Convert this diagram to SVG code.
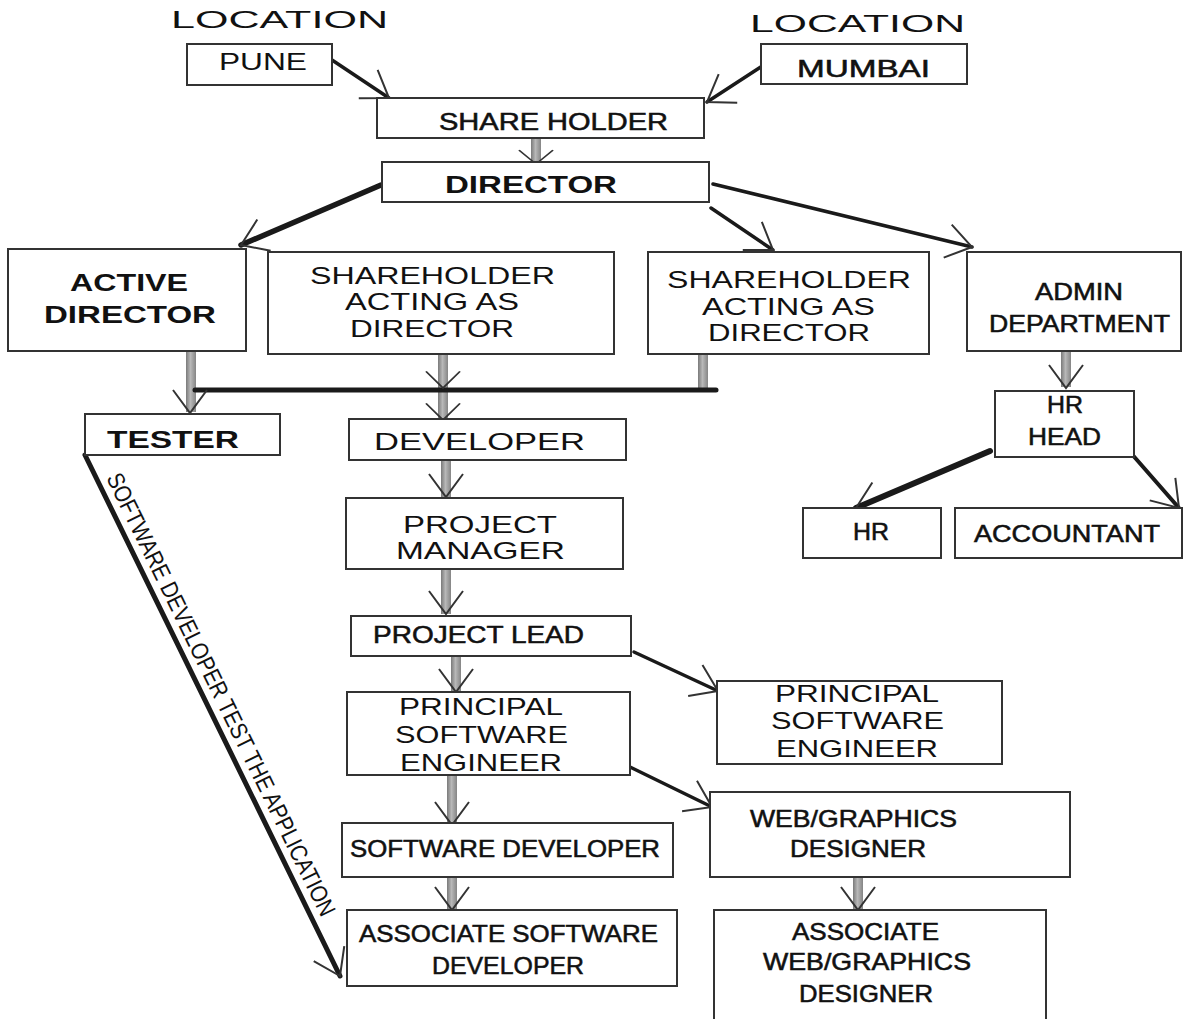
<svg xmlns="http://www.w3.org/2000/svg" xmlns:xlink="http://www.w3.org/1999/xlink" width="1183" height="1019" viewBox="0 0 1183 1019">
<defs>
<style>
.box{fill:#fff;stroke:#333;stroke-width:2}
.t{font-family:"Liberation Sans",Arial,sans-serif;fill:#111;font-size:24px}
.b{font-weight:bold}
.m{stroke:#111;stroke-width:0.55}
.blk{stroke:#1a1a1a;fill:none;stroke-linecap:round}
.chev{fill:none;stroke:#333;stroke-width:2;stroke-linejoin:miter}
.gbar{fill:url(#gg)}
</style>
<linearGradient id="gg" x1="0" y1="0" x2="1" y2="0">
<stop offset="0" stop-color="#7a7a7a"/>
<stop offset="0.45" stop-color="#b8b8b8"/>
<stop offset="1" stop-color="#858585"/>
</linearGradient>
<marker id="ah" viewBox="-32 -22 36 44" refX="0" refY="0" markerWidth="36" markerHeight="44" markerUnits="userSpaceOnUse" orient="auto">
<path d="M-25,-17 L0,0 L-25,17" fill="none" stroke="#333" stroke-width="2"/>
</marker>
<path id="cv" d="M-17,-23 L0,0 L17,-23"/>
</defs>
<rect width="1183" height="1019" fill="#fff"/>

<g id="connectors">
<line class="blk" x1="332" y1="60" x2="389" y2="98" stroke-width="3.5" marker-end="url(#ah)"/>
<line class="blk" x1="767" y1="63" x2="707" y2="102" stroke-width="3.5" marker-end="url(#ah)"/>
<line class="blk" x1="381" y1="185" x2="241" y2="245" stroke-width="5.5" marker-end="url(#ah)"/>
<line class="blk" x1="711" y1="208" x2="773" y2="250" stroke-width="3.5" marker-end="url(#ah)"/>
<line class="blk" x1="713" y1="184" x2="972" y2="247" stroke-width="3.5" marker-end="url(#ah)"/>
<line class="blk" x1="990" y1="451" x2="856" y2="508" stroke-width="6" marker-end="url(#ah)"/>
<line class="blk" x1="1130" y1="452" x2="1179" y2="508" stroke-width="4" marker-end="url(#ah)"/>
<line class="blk" x1="634" y1="652" x2="718" y2="691" stroke-width="3.5" marker-end="url(#ah)"/>
<line class="blk" x1="630" y1="767" x2="712" y2="807" stroke-width="3.5" marker-end="url(#ah)"/>
<line class="blk" x1="85" y1="455" x2="340" y2="976" stroke-width="5" marker-end="url(#ah)"/>
<text class="t" font-size="18" transform="translate(106,478) rotate(63.9)" textLength="490" lengthAdjust="spacingAndGlyphs">SOFTWARE DEVELOPER TEST THE APPLICATION</text>
<rect class="gbar" x="531" y="138" width="10" height="25"/>
<use href="#cv" class="chev" transform="translate(536,164) scale(1,0.6)"/>
<rect class="gbar" x="186" y="350" width="10" height="62"/>
<rect class="gbar" x="438" y="354" width="10" height="65"/>
<rect class="gbar" x="698" y="354" width="10" height="37"/>
<line class="blk" x1="195" y1="390" x2="716" y2="390" stroke-width="5" stroke-linecap="butt"/>
<use href="#cv" class="chev" transform="translate(190,413)"/>
<use href="#cv" class="chev" transform="translate(443,388) scale(1,0.72)"/>
<use href="#cv" class="chev" transform="translate(443,420) scale(1,0.72)"/>
<rect class="gbar" x="441" y="460" width="10" height="37"/>
<use href="#cv" class="chev" transform="translate(446,497)"/>
<rect class="gbar" x="441" y="570" width="10" height="44"/>
<use href="#cv" class="chev" transform="translate(446,614)"/>
<rect class="gbar" x="451" y="657" width="10" height="35"/>
<use href="#cv" class="chev" transform="translate(456,692)"/>
<rect class="gbar" x="447" y="776" width="10" height="48"/>
<use href="#cv" class="chev" transform="translate(452,825)"/>
<rect class="gbar" x="447" y="878" width="10" height="31"/>
<use href="#cv" class="chev" transform="translate(452,910)"/>
<rect class="gbar" x="853" y="878" width="10" height="31"/>
<use href="#cv" class="chev" transform="translate(858,910)"/>
<rect class="gbar" x="1061" y="352" width="10" height="35"/>
<use href="#cv" class="chev" transform="translate(1066,388)"/>
</g>

<g id="loc-left"><text class="t" x="171" y="28" font-size="25" textLength="217" lengthAdjust="spacingAndGlyphs">LOCATION</text></g>
<g id="loc-right"><text class="t" x="750" y="32" font-size="25" textLength="215" lengthAdjust="spacingAndGlyphs">LOCATION</text></g>

<g id="pune"><rect class="box" x="187" y="44" width="145" height="41"/>
<text class="t" x="219" y="70" font-size="23" textLength="88" lengthAdjust="spacingAndGlyphs">PUNE</text></g>

<g id="mumbai"><rect class="box" x="761" y="44" width="206" height="40"/>
<text class="t m" x="797" y="77" font-size="27" textLength="133" lengthAdjust="spacingAndGlyphs">MUMBAI</text></g>

<g id="shareholder"><rect class="box" x="377" y="98" width="327" height="40"/>
<text class="t m" x="439" y="130" font-size="25" textLength="229" lengthAdjust="spacingAndGlyphs">SHARE HOLDER</text></g>

<g id="director"><rect class="box" x="382" y="162" width="327" height="40"/>
<text class="t b" x="445" y="193" font-size="26" textLength="172" lengthAdjust="spacingAndGlyphs">DIRECTOR</text></g>

<g id="active-director"><rect class="box" x="8" y="249" width="238" height="102"/>
<text class="t b" x="70" y="291" font-size="26" textLength="118" lengthAdjust="spacingAndGlyphs">ACTIVE</text>
<text class="t b" x="44" y="323" font-size="26" textLength="172" lengthAdjust="spacingAndGlyphs">DIRECTOR</text></g>

<g id="sh-acting-1"><rect class="box" x="268" y="252" width="346" height="102"/>
<text class="t" x="310" y="284" font-size="22" textLength="245" lengthAdjust="spacingAndGlyphs">SHAREHOLDER</text>
<text class="t" x="345" y="310" font-size="22" textLength="174" lengthAdjust="spacingAndGlyphs">ACTING AS</text>
<text class="t" x="350" y="337" font-size="22" textLength="164" lengthAdjust="spacingAndGlyphs">DIRECTOR</text></g>

<g id="sh-acting-2"><rect class="box" x="648" y="252" width="281" height="102"/>
<text class="t" x="667" y="288" font-size="22" textLength="244" lengthAdjust="spacingAndGlyphs">SHAREHOLDER</text>
<text class="t" x="702" y="315" font-size="22" textLength="173" lengthAdjust="spacingAndGlyphs">ACTING AS</text>
<text class="t" x="708" y="341" font-size="22" textLength="162" lengthAdjust="spacingAndGlyphs">DIRECTOR</text></g>

<g id="admin"><rect class="box" x="967" y="252" width="214" height="99"/>
<text class="t m" x="1035" y="300" font-size="25" textLength="88" lengthAdjust="spacingAndGlyphs">ADMIN</text>
<text class="t m" x="989" y="332" font-size="25" textLength="181" lengthAdjust="spacingAndGlyphs">DEPARTMENT</text></g>

<g id="hr-head"><rect class="box" x="995" y="391" width="139" height="66"/>
<text class="t m" x="1047" y="413" font-size="23" textLength="36" lengthAdjust="spacingAndGlyphs">HR</text>
<text class="t m" x="1028" y="445" font-size="25" textLength="73" lengthAdjust="spacingAndGlyphs">HEAD</text></g>

<g id="hr"><rect class="box" x="803" y="508" width="138" height="50"/>
<text class="t m" x="853" y="540" font-size="23" textLength="36" lengthAdjust="spacingAndGlyphs">HR</text></g>

<g id="accountant"><rect class="box" x="955" y="508" width="227" height="50"/>
<text class="t m" x="974" y="542" font-size="25" textLength="186" lengthAdjust="spacingAndGlyphs">ACCOUNTANT</text></g>

<g id="tester"><rect class="box" x="85" y="414" width="195" height="41"/>
<text class="t b" x="107" y="448" font-size="25" textLength="132" lengthAdjust="spacingAndGlyphs">TESTER</text></g>

<g id="developer"><rect class="box" x="349" y="419" width="277" height="41"/>
<text class="t" x="374" y="450" font-size="25" textLength="211" lengthAdjust="spacingAndGlyphs">DEVELOPER</text></g>

<g id="project-manager"><rect class="box" x="346" y="498" width="277" height="71"/>
<text class="t" x="403" y="533" font-size="24" textLength="154" lengthAdjust="spacingAndGlyphs">PROJECT</text>
<text class="t" x="396" y="559" font-size="24" textLength="169" lengthAdjust="spacingAndGlyphs">MANAGER</text></g>

<g id="project-lead"><rect class="box" x="351" y="616" width="280" height="40"/>
<text class="t m" x="373" y="643" font-size="25" textLength="211" lengthAdjust="spacingAndGlyphs">PROJECT LEAD</text></g>

<g id="pse-left"><rect class="box" x="347" y="692" width="283" height="83"/>
<text class="t" x="399" y="715" font-size="24" textLength="164" lengthAdjust="spacingAndGlyphs">PRINCIPAL</text>
<text class="t" x="395" y="743" font-size="24" textLength="173" lengthAdjust="spacingAndGlyphs">SOFTWARE</text>
<text class="t" x="400" y="771" font-size="24" textLength="162" lengthAdjust="spacingAndGlyphs">ENGINEER</text></g>

<g id="pse-right"><rect class="box" x="717" y="681" width="285" height="83"/>
<text class="t" x="775" y="702" font-size="24" textLength="164" lengthAdjust="spacingAndGlyphs">PRINCIPAL</text>
<text class="t" x="771" y="729" font-size="24" textLength="173" lengthAdjust="spacingAndGlyphs">SOFTWARE</text>
<text class="t" x="776" y="757" font-size="24" textLength="162" lengthAdjust="spacingAndGlyphs">ENGINEER</text></g>

<g id="software-developer"><rect class="box" x="342" y="823" width="331" height="54"/>
<text class="t m" x="350" y="857" font-size="25" textLength="310" lengthAdjust="spacingAndGlyphs">SOFTWARE DEVELOPER</text></g>

<g id="web-designer"><rect class="box" x="710" y="792" width="360" height="85"/>
<text class="t m" x="750" y="827" font-size="25" textLength="207" lengthAdjust="spacingAndGlyphs">WEB/GRAPHICS</text>
<text class="t m" x="790" y="857" font-size="25" textLength="136" lengthAdjust="spacingAndGlyphs">DESIGNER</text></g>

<g id="assoc-sw-dev"><rect class="box" x="347" y="910" width="330" height="76"/>
<text class="t m" x="359" y="942" font-size="25" textLength="299" lengthAdjust="spacingAndGlyphs">ASSOCIATE SOFTWARE</text>
<text class="t m" x="432" y="974" font-size="25" textLength="152" lengthAdjust="spacingAndGlyphs">DEVELOPER</text></g>

<g id="assoc-web-designer"><rect class="box" x="714" y="910" width="332" height="120"/>
<text class="t m" x="792" y="940" font-size="25" textLength="147" lengthAdjust="spacingAndGlyphs">ASSOCIATE</text>
<text class="t m" x="763" y="970" font-size="25" textLength="208" lengthAdjust="spacingAndGlyphs">WEB/GRAPHICS</text>
<text class="t m" x="799" y="1002" font-size="25" textLength="134" lengthAdjust="spacingAndGlyphs">DESIGNER</text></g>
</svg>
